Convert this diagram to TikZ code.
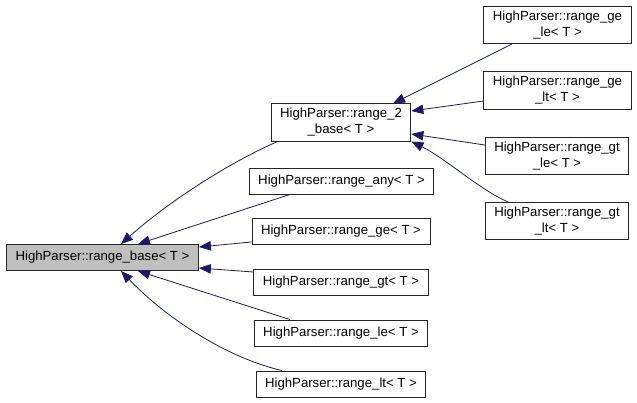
\documentclass[tikz,border=0pt]{standalone}
\usepackage{fontspec}
\setmainfont{Liberation Sans}
\usetikzlibrary{arrows.meta}
\begin{document}
\begin{tikzpicture}[x=1pt,y=-1pt,
  cls/.style={draw=black!85,line width=0.9pt,fill=white,inner xsep=9pt,inner ysep=4.5pt,
   minimum height=26pt,align=center,font=\fontsize{13.2}{16}\selectfont},
  edge/.style={draw=navyline,line width=0.8pt,-{Triangle[length=12pt,width=9.5pt]}}]
  \definecolor{navyline}{HTML}{191970}
  \definecolor{basefill}{HTML}{BFBFBF}
  \useasboundingbox (0,0) rectangle (637,403);
  \node [cls,fill=basefill] (base) at (102.5,257.5) {HighParser::range\_base< T >};
  \node [cls] (twobase) at (341,122.5) {HighParser::range\_2\\\_base< T >};
  \node [cls] (any) at (341.5,181) {HighParser::range\_any< T >};
  \node [cls] (ge) at (341,231) {HighParser::range\_ge< T >};
  \node [cls] (gt) at (341,282) {HighParser::range\_gt< T >};
  \node [cls] (le) at (341,333) {HighParser::range\_le< T >};
  \node [cls] (lt) at (341,384) {HighParser::range\_lt< T >};
  \node [cls] (gele) at (557.5,25) {HighParser::range\_ge\\\_le< T >};
  \node [cls] (gelt) at (557.5,90.5) {HighParser::range\_ge\\\_lt< T >};
  \node [cls] (gtle) at (557,156) {HighParser::range\_gt\\\_le< T >};
  \node [cls] (gtlt) at (557,221) {HighParser::range\_gt\\\_lt< T >};
  \draw [edge] ([xshift=7pt]twobase.south west) .. controls (230,162) and (168,202) .. ([xshift=18.5pt]base.north);
  \draw [edge] ([xshift=-51.5pt]any.south) -- ([xshift=35.5pt]base.north);
  \draw [edge] ([yshift=-11pt]ge.west) -- ([yshift=10.5pt]base.east);
  \draw [edge] ([yshift=10pt]gt.west) -- ([yshift=-10.5pt]base.east);
  \draw [edge] ([xshift=-51pt]le.north) -- ([xshift=35.5pt]base.south);
  \draw [edge] ([xshift=-59pt]lt.north) .. controls (220,356) and (160,312) .. ([xshift=18.5pt]base.south);
  \draw [edge] ([xshift=-45.5pt]gele.south) -- ([xshift=52pt]twobase.north);
  \draw [edge] ([yshift=-10.5pt]gelt.west) -- ([yshift=11.5pt]twobase.east);
  \draw [edge] ([yshift=11pt]gtle.west) -- ([yshift=-11.5pt]twobase.east);
  \draw [edge] ([xshift=-49pt]gtlt.north) .. controls (480,190) and (445,158) .. (twobase.south east);
\end{tikzpicture}
\end{document}
